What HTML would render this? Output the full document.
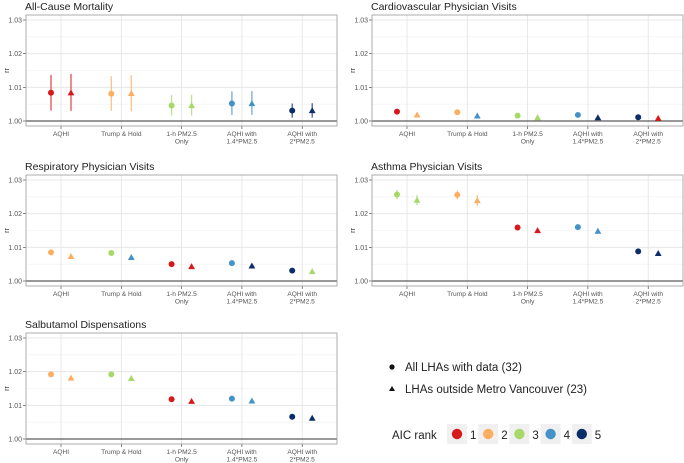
<!DOCTYPE html>
<html><head><meta charset="utf-8"><style>
body{margin:0;background:#fff;}
svg{display:block;font-family:"Liberation Sans",sans-serif;}
</style></head><body>
<svg id="c" width="684" height="463" viewBox="0 0 684 463"></svg>
<script>
const categories=["AQHI","Trump & Hold","1-h PM2.5|Only","AQHI with|1.4*PM2.5","AQHI with|2*PM2.5"];
const panelTitles=["All-Cause Mortality","Cardiovascular Physician Visits","Respiratory Physician Visits","Asthma Physician Visits","Salbutamol Dispensations"];
const yTicks=[1.00,1.01,1.02,1.03];
const circleVals=[[1.0084,1.0081,1.0046,1.0052,1.0031],[1.0028,1.0026,1.0016,1.0018,1.0011],[1.0085,1.0083,1.0050,1.0053,1.0031],[1.0257,1.0256,1.0159,1.0160,1.0088],[1.0192,1.0192,1.0118,1.0120,1.0066]];
const triVals=[[1.0084,1.0082,1.0046,1.0052,1.0031],[1.0018,1.0015,1.0010,1.0010,1.0008],[1.0073,1.0070,1.0043,1.0045,1.0028],[1.0240,1.0239,1.0150,1.0148,1.0082],[1.0181,1.0180,1.0112,1.0113,1.0062]];
const circleLo=[[1.0031,1.0030,1.0016,1.0018,1.0010],[1.0023,1.0021,1.0013,1.0015,1.0009],[1.0080,1.0078,1.0047,1.0050,1.0029],[1.0243,1.0243,1.0153,1.0154,1.0085],[1.0188,1.0188,1.0115,1.0117,1.0064]];
const circleHi=[[1.0137,1.0133,1.0077,1.0088,1.0052],[1.0033,1.0031,1.0019,1.0021,1.0013],[1.0090,1.0088,1.0053,1.0056,1.0033],[1.0271,1.0269,1.0165,1.0166,1.0091],[1.0196,1.0196,1.0121,1.0123,1.0068]];
const triLo=[[1.0030,1.0029,1.0016,1.0018,1.0010],[1.0013,1.0010,1.0007,1.0007,1.0005],[1.0067,1.0064,1.0039,1.0041,1.0025],[1.0225,1.0223,1.0143,1.0140,1.0078],[1.0176,1.0175,1.0108,1.0109,1.0059]];
const triHi=[[1.0140,1.0136,1.0078,1.0089,1.0053],[1.0023,1.0020,1.0013,1.0013,1.0011],[1.0079,1.0076,1.0047,1.0049,1.0031],[1.0255,1.0255,1.0157,1.0156,1.0086],[1.0186,1.0185,1.0116,1.0117,1.0065]];
const circleRank=[[1,2,3,4,5],[1,2,3,4,5],[2,3,1,4,5],[3,2,1,4,5],[2,3,1,4,5]];
const triRank=[[1,2,3,4,5],[2,4,3,5,1],[2,4,1,5,3],[3,2,1,4,5],[2,3,1,4,5]];
const rankColors=["#d7191c","#fdae61","#a6d96a","#4393c9","#0b2e6b"];
const legendShapes=["All LHAs with data (32)","LHAs outside Metro Vancouver (23)"];

const NS="http://www.w3.org/2000/svg";
const svg=document.getElementById("c");
function mk(t,a,p){const e=document.createElementNS(NS,t);for(const k in a)e.setAttribute(k,a[k]);(p||svg).appendChild(e);return e;}
const panels=[[26,15],[372,15],[26,175],[372,175],[26,333]];
panels.forEach((pp,pi)=>{
  const [L,T]=pp, W=311, H=111;
  const y0=T+106, y3=T+5;
  const yS=v=>y0-(v-1)/0.03*(y0-y3);
  const xS=i=>L+35+i*60.3;
  const g=mk("g",{});
  
  
  const t=mk("text",{x:L-1,y:T-5,"font-size":"10.5",fill:"#222"},g);t.textContent=panelTitles[pi];
  
  mk("rect",{x:L,y:T,width:W,height:H,fill:"#fff"},g);
  for(let k=0;k<3;k++)mk("line",{x1:L,x2:L+W,y1:yS(1.005+k*0.01),y2:yS(1.005+k*0.01),stroke:"#f0f0f0","stroke-width":0.6},g);
  yTicks.forEach(v=>{mk("line",{x1:L,x2:L+W,y1:yS(v),y2:yS(v),stroke:"#e3e3e3","stroke-width":0.8},g);
    mk("line",{x1:L-3,x2:L,y1:yS(v),y2:yS(v),stroke:"#333","stroke-width":0.6},g);
    const tl=mk("text",{x:L-4,y:yS(v)+2.5,"font-size":"7","text-anchor":"end",fill:"#555"},g);tl.textContent=v.toFixed(2);
    });
  categories.forEach((c,i)=>{const x=xS(i);mk("line",{x1:x,x2:x,y1:T,y2:T+H,stroke:"#e3e3e3","stroke-width":0.8},g);
    mk("line",{x1:x,x2:x,y1:T+H,y2:T+H+3,stroke:"#333","stroke-width":0.6},g);
    c.split("|").forEach((s,j)=>{const tl=mk("text",{x:x,y:T+H+10+j*7.6,"font-size":"6.6","text-anchor":"middle",fill:"#555"},g);tl.textContent=s;
      });});
  mk("line",{x1:L,x2:L+W,y1:yS(1),y2:yS(1),stroke:"#333","stroke-width":1},g);
  mk("rect",{x:L,y:T,width:W,height:H,fill:"none",stroke:"#999","stroke-width":0.8},g);
  const yl=mk("text",{x:0,y:0,"font-size":"7",fill:"#222","text-anchor":"middle",transform:`translate(${L-17},${(T+T+H)/2}) rotate(-90)`},g);yl.textContent="rr";
  
  categories.forEach((c,i)=>{
    const xc=xS(i)-10, xt=xS(i)+10;
    const cc=rankColors[circleRank[pi][i]-1], tc=rankColors[triRank[pi][i]-1];
    mk("line",{x1:xc,x2:xc,y1:yS(circleLo[pi][i]),y2:yS(circleHi[pi][i]),stroke:cc,"stroke-width":1.3,opacity:0.75},g);
    const ci=mk("circle",{cx:xc,cy:yS(circleVals[pi][i]),r:3,fill:cc},g);
    
    mk("line",{x1:xt,x2:xt,y1:yS(triLo[pi][i]),y2:yS(triHi[pi][i]),stroke:tc,"stroke-width":1.3,opacity:0.75},g);
    const ty=yS(triVals[pi][i]);
    const tr=mk("polygon",{points:`${xt-3.4},${ty+2.6} ${xt+3.4},${ty+2.6} ${xt},${ty-3.4}`,fill:tc},g);
    
  });
});
const lg=mk("g",{});

mk("circle",{cx:392,cy:367,r:2.6,fill:"#111"},lg);
mk("polygon",{points:"389,391 395,391 392,386",fill:"#111"},lg);
legendShapes.forEach((s,i)=>{const t=mk("text",{x:405,y:371+i*22,"font-size":"11.5",fill:"#222"},lg);t.textContent=s;
  });
const at=mk("text",{x:392,y:439,"font-size":"11.5",fill:"#222"},lg);at.textContent="AIC rank";

rankColors.forEach((c,i)=>{const x=447+i*31.2;
  mk("rect",{x:x,y:424,width:20,height:20,fill:"#f0f0f0"},lg);
  mk("circle",{cx:x+10,cy:434,r:5.2,fill:c},lg);
  const t=mk("text",{x:x+23,y:439,"font-size":"11.5",fill:"#222"},lg);t.textContent=String(i+1);
  });
</script>
</body></html>
